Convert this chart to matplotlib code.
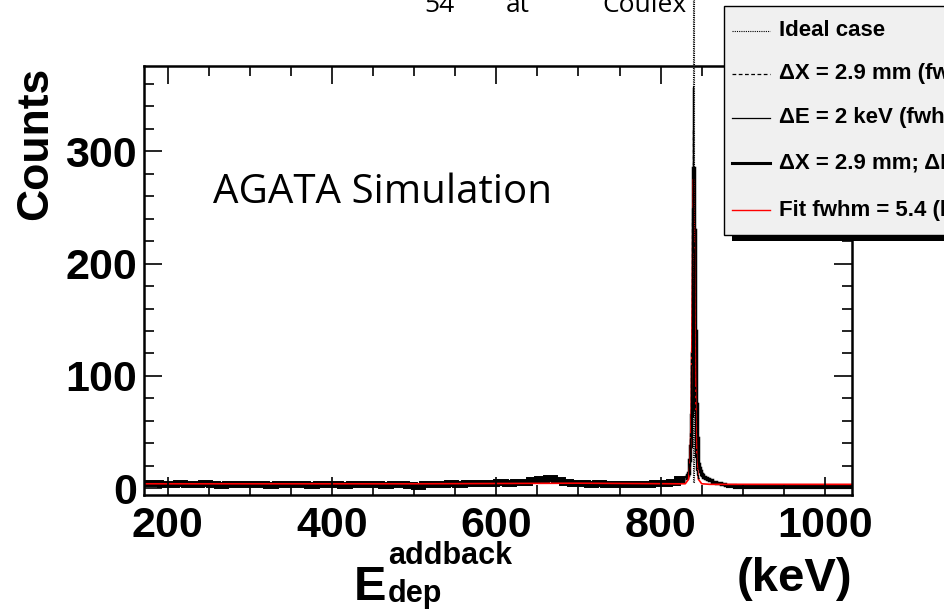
import numpy as np
import matplotlib.pyplot as plt
from matplotlib.patches import Rectangle
from matplotlib.lines import Line2D

# ---- data ----
# energy binning (keV)
bg_edges = np.arange(170, 840, 10)          # coarse bins below the peak
pk_edges = np.arange(830, 881, 1)           # 1 keV bins around the peak
hi_edges = np.arange(880, 1050, 10)         # coarse bins above the peak

# thick line: dX = 2.9 mm; dE = 2 keV
bg_counts = [5, 5, 4,
             4, 5, 4, 4, 5, 4, 3, 4, 4, 4,
             4, 4, 3, 4, 4, 4, 4, 3, 4, 4,
             4, 3, 4, 4, 4, 4, 3, 4, 4, 3,
             2, 4, 4, 4, 5, 4, 5, 5, 5, 5,
             6, 5, 6, 6, 7, 8, 9, 7, 6, 5,
             5, 4, 5, 4, 4, 4, 4, 4, 4, 5,
             5, 6, 8]
pk_counts = [9, 10, 12, 14, 18, 25, 38, 65, 120, 210,
             285, 230, 140, 75, 45, 30, 22, 18, 15, 13,
             12, 11, 10, 10, 9, 9, 8, 8, 8, 7,
             7, 7, 7, 6, 6, 6, 6, 6, 5, 5,
             5, 5, 5, 5, 4, 4, 4, 4, 3, 3]
hi_counts = [2, 1, 1, 1, 1, 1, 1, 1, 1, 1, 1, 1, 1, 1, 1, 1]

# thin line: dE = 2 keV, peak region only (background lies under the thick line)
de_edges = np.arange(834, 848, 1)
de_counts = [12, 20, 45, 110, 250, 357, 210, 70, 28, 16, 12, 10, 9]

# dashed line: dX = 2.9 mm
dx_edges = np.arange(834, 848, 1)
dx_counts = [14, 24, 50, 120, 240, 320, 220, 90, 35, 18, 13, 10, 9]

# dotted line: ideal case (all counts in one bin)
ideal_edges = [839, 840, 841, 842]
ideal_counts = [6, 1500, 6]

# red fit curve
fit_e = [171, 300, 500, 700, 820, 830, 834, 836, 837, 838, 839, 840,
         841, 842, 843, 844, 846, 850, 860, 880, 900, 1033]
fit_c = [4, 4, 4, 4.5, 4, 4, 8, 25, 60, 130, 220, 275,
         230, 130, 60, 25, 8, 4, 3.5, 3.5, 3.5, 3.5]

x_ticks = [200, 400, 600, 800, 1000]
y_ticks = [0, 100, 200, 300]

legend_labels = ['Ideal case',
                 '\u0394X = 2.9 mm (fwhm)',
                 '\u0394E = 2 keV (fwhm)',
                 '\u0394X = 2.9 mm; \u0394E = 2 keV',
                 'Fit fwhm = 5.4 (keV)']

# slide title, cut by the top edge of the picture
title_bits = ['54', 'at', 'Coulex']
title_x = [424, 506, 602]

# ---- figure ----
W, H = 944, 613
fig = plt.figure(figsize=(W / 100, H / 100), dpi=100)
ax = fig.add_axes([144 / W, 1 - 495 / H, 708 / W, 429 / H])

ax.stairs(bg_counts, bg_edges, color='black', lw=5.0, baseline=None)
ax.stairs(pk_counts, pk_edges, color='black', lw=2.5, baseline=None)
ax.stairs(hi_counts, hi_edges, color='black', lw=3.0, baseline=None)
ax.plot(fit_e, fit_c, color='red', lw=1.2, zorder=1)
ax.stairs(dx_counts, dx_edges, color='black', lw=0.9, ls=(0, (3, 2)), baseline=None)
ax.stairs(de_counts, de_edges, color='black', lw=0.9, baseline=None)
ax.stairs(ideal_counts, ideal_edges, color='black', lw=0.8, ls=(0, (1, 1)),
          baseline=None, clip_on=False)

ax.set_xlim(171, 1033)
ax.set_ylim(-6, 376)

font = 'Liberation Sans'
ax.set_xticks(x_ticks)
ax.set_yticks(y_ticks)
ax.set_xticks(np.arange(200, 1033, 50), minor=True)
ax.set_yticks(np.arange(0, 376, 20), minor=True)
ax.tick_params(which='both', direction='in', top=True, right=True, color='black', width=1.2)
ax.tick_params(which='major', length=13)
ax.tick_params(which='minor', length=7)
ax.tick_params(axis='x', pad=8)
ax.tick_params(axis='y', pad=5)
for lab in ax.get_xticklabels() + ax.get_yticklabels():
    lab.set_fontfamily(font)
    lab.set_fontweight('bold')
    lab.set_fontsize(31)
for sp in ax.spines.values():
    sp.set_linewidth(1.8)

# axis titles
fig.text(36 / W, 1 - 143 / H, 'Counts', rotation=90, ha='center', va='center',
         fontfamily=font, fontweight='bold', fontsize=32)
fig.text(354 / W, 1 - 600 / H, 'E', ha='left', va='baseline',
         fontfamily=font, fontweight='bold', fontsize=35)
fig.text(388 / W, 1 - 564 / H, 'addback', ha='left', va='baseline',
         fontfamily=font, fontweight='bold', fontsize=22)
fig.text(388 / W, 1 - 602 / H, 'dep', ha='left', va='baseline',
         fontfamily=font, fontweight='bold', fontsize=22)
fig.text(852 / W, 1 - 579 / H, '(keV)', ha='right', va='center',
         fontfamily=font, fontweight='bold', fontsize=34)

fig.text(213 / W, 1 - 193 / H, 'AGATA Simulation', ha='left', va='center',
         fontfamily='Open Sans', fontsize=29)

for bit, bx in zip(title_bits, title_x):
    fig.text(bx / W, 1 - 12 / H, bit, ha='left', va='baseline',
             fontfamily='Open Sans', fontsize=19)

# legend box (ROOT style, runs off the right edge)
fig.add_artist(Rectangle((732 / W, 1 - 241 / H), 1, 6 / H, transform=fig.transFigure,
                         facecolor='black', edgecolor='none'))
fig.add_artist(Rectangle((724 / W, 1 - 235 / H), 1, 229 / H, transform=fig.transFigure,
                         facecolor='#f0f0f0', edgecolor='black', lw=1))
styles = [dict(lw=0.8, ls=(0, (1, 1)), color='black'),
          dict(lw=0.9, ls=(0, (3, 2)), color='black'),
          dict(lw=0.9, ls='-', color='black'),
          dict(lw=2.2, ls='-', color='black'),
          dict(lw=1.0, ls='-', color='red')]
rows_y = [31, 74, 118, 163, 210]
for lbl, st, yy in zip(legend_labels, styles, rows_y):
    fy = 1 - yy / H
    fig.add_artist(Line2D([732 / W, 770 / W], [fy, fy], transform=fig.transFigure, **st))
    fig.text(779 / W, fy, lbl, ha='left', va='center', fontfamily=font,
             fontweight='bold', fontsize=16)

fig.savefig('out.png', dpi=100)
